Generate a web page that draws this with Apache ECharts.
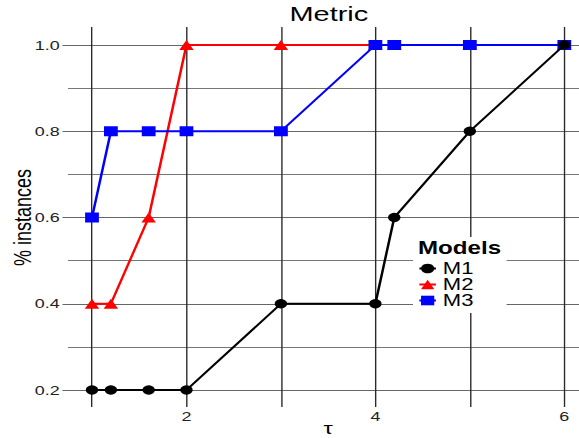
<!DOCTYPE html>
<html><head><meta charset="utf-8">
<script src="https://cdn.jsdelivr.net/npm/echarts@6/dist/echarts.min.js"></script>
<style>
html,body{margin:0;padding:0;background:#fff;overflow:hidden}
#wrap{width:579px;height:438px;overflow:hidden;position:relative;background:#fff}
#chart{width:420px;height:438px;transform-origin:0 0;transform:scaleX(1.378571)}
</style></head>
<body><div id="wrap"><div id="chart"></div></div>
<script>
// ---- data ----
const tau = [1, 1.2, 1.6, 2, 3, 4, 4.2, 5, 6];
const m1  = [0.2, 0.2, 0.2, 0.2, 0.4, 0.4, 0.6, 0.8, 1.0];
const m2  = [0.4, 0.4, 0.6, 1.0, 1.0, 1.0, 1.0, 1.0, 1.0];
const m3  = [0.6, 0.8, 0.8, 0.8, 0.8, 1.0, 1.0, 1.0, 1.0];
const seriesNames = ['M1', 'M2', 'M3'];
const xTickLabels = [2, 4, 6];
const yTickLabels = [0.2, 0.4, 0.6, 0.8, 1.0];
const titleText = 'Metric';
const xName = 'τ';
const yName = '% instances';
const legendTitle = 'Models';

// ---- layout (reference is horizontally stretched) ----
const S = 579 / 420;
const px = v => v / S;
const X1 = 92, UNIT = 94.46;      // pixel of tau=1 and px per unit in the reference
const PLOT_L = 68;                // left of plot panel in reference px
const FONT = '"Liberation Sans", Arial, sans-serif';

const dataXMin = 1 - (X1 - PLOT_L) / UNIT;
const dataXMax = 1 + (579 - X1) / UNIT;

const colors = ['#000000', '#ff0000', '#0000ff'];
const symbols = ['circle', 'triangle', 'rect'];
const sizes = [[9, 9.5], [10.5, 10], [10, 10]];
const zs = [4, 2, 3];
const vals = [m1, m2, m3];

const chart = echarts.init(document.getElementById('chart'), null, {renderer: 'svg'});
chart.setOption({
  animation: false,
  backgroundColor: '#ffffff',
  textStyle: {fontFamily: FONT},
  title: [
    {text: titleText, left: 210, top: 3, padding: 0,
     textStyle: {fontFamily: FONT, fontSize: 21, fontWeight: 'normal', color: '#000'}},
    {text: legendTitle, left: px(418), top: 239, padding: 0, z: 10,
     textStyle: {fontFamily: FONT, fontSize: 17.5, fontWeight: 'bold', color: '#000'}}
  ],
  grid: [
    {left: px(X1 - UNIT), width: px(7 * UNIT), top: 27, bottom: 31,
     containLabel: false, outerBoundsMode: 'none'},
    {left: px(PLOT_L), right: 0, top: 45, bottom: 48,
     containLabel: false, outerBoundsMode: 'none'}
  ],
  xAxis: [
    {type: 'value', gridIndex: 0, min: 0, max: 7, interval: 1,
     axisLine: {show: false}, axisTick: {show: false},
     splitLine: {show: true, lineStyle: {color: '#2a2a2a', width: 1}},
     axisLabel: {fontFamily: FONT, fontSize: 13, color: '#222', margin: 3,
       formatter: v => xTickLabels.includes(v) ? String(v) : ''},
     name: xName, nameLocation: 'middle', nameGap: 14, nameMoveOverlap: false,
     nameTextStyle: {fontFamily: FONT, fontSize: 17, lineHeight: 14, color: '#000'}},
    {type: 'value', gridIndex: 1, min: dataXMin, max: dataXMax, show: false,
     splitLine: {show: false}}
  ],
  yAxis: [
    {type: 'value', gridIndex: 0, min: 0, max: 1, show: false, splitLine: {show: false}},
    {type: 'value', gridIndex: 1, min: 0.2, max: 1.0, interval: 0.2,
     axisLine: {show: false},
     axisTick: {show: true, length: 4, lineStyle: {color: '#666', width: 1}},
     splitLine: {show: true, lineStyle: {color: '#666', width: 1}},
     minorTick: {show: false, splitNumber: 2},
     minorSplitLine: {show: true, lineStyle: {color: '#777', width: 1}},
     axisLabel: {fontFamily: FONT, fontSize: 13, color: '#222', margin: 6,
       formatter: v => yTickLabels.some(t => Math.abs(t - v) < 1e-9) ? v.toFixed(1) : ''},
     name: yName, nameLocation: 'middle', nameGap: 24, nameRotate: 90, nameMoveOverlap: false,
     nameTextStyle: {fontFamily: FONT, fontSize: 18, color: '#000'}}
  ],
  legend: {
    data: seriesNames, orient: 'vertical', left: px(413), top: 237,
    padding: [23.5, 24, 4.5, px(418) - px(413)],
    backgroundColor: '#ffffff', borderWidth: 0,
    itemWidth: 12, itemHeight: 12, itemGap: 0,
    textStyle: {fontFamily: FONT, fontSize: 16, lineHeight: 15, color: '#000'}
  },
  series: seriesNames.map((n, k) => ({
    type: 'line', name: n, xAxisIndex: 1, yAxisIndex: 1,
    data: tau.map((t, i) => [t, vals[k][i]]),
    symbol: symbols[k], symbolSize: sizes[k], showSymbol: true,
    itemStyle: {color: colors[k]},
    lineStyle: {color: colors[k], width: 1.8},
    z: zs[k], clip: false
  }))
});
</script>
</body></html>
